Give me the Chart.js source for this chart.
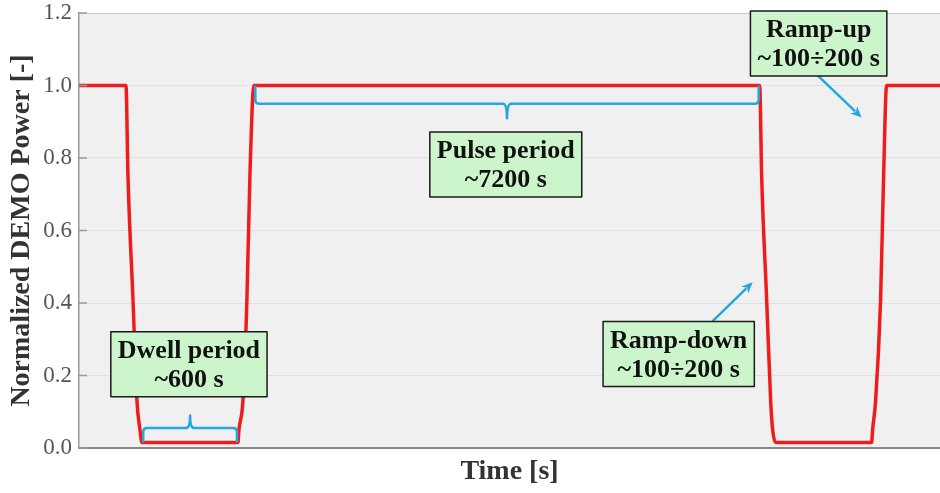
<!DOCTYPE html>
<html>
<head>
<meta charset="utf-8">
<script src="https://cdn.jsdelivr.net/npm/chart.js@4.4.0/dist/chart.umd.min.js"></script>
<style>
  html, body { margin: 0; padding: 0; background: #fff; }
  #wrap { width: 940px; height: 493px; position: relative; }
</style>
</head>
<body>
<div id="wrap"><canvas id="potencia"></canvas></div>
<script>
// Ciclo pulsado de DEMO: potencia normalizada frente al tiempo (s)
const tiempo = [0, 658, 686, 756, 812, 854, 882, 2226, 2240, 2296, 2352, 2394, 2450,
                9534, 9562, 9632, 9688, 9716, 9758, 11102, 11116, 11158, 11228, 11270, 11312, 12060];
const potencia = [1.0, 1.0, 0.75, 0.41, 0.13, 0.05, 0.015, 0.015, 0.05, 0.13, 0.41, 0.75, 1.0,
                  1.0, 0.75, 0.41, 0.13, 0.05, 0.015, 0.015, 0.05, 0.13, 0.41, 0.75, 1.0, 1.0];
const ticksY = [0, 0.2, 0.4, 0.6, 0.8, 1.0, 1.2];

// llaves: tramo [desde, hasta], nivel de apoyo, nivel de la llave y del pico
const llaves = [
  { desde: 2470, hasta: 9520, base: 1.0, nivel: 0.95, pico: 0.91 },
  { desde: 900, hasta: 2212, base: 0.015, nivel: 0.055, pico: 0.09 },
];
// rótulos (centro en coordenadas de datos)
const rotulos = [
  { texto: ["Dwell period", "~600 s"], x: 1540, y: 0.231 },
  { texto: ["Pulse period", "~7200 s"], x: 5978, y: 0.782 },
  { texto: ["Ramp-down", "~100÷200 s"], x: 8400, y: 0.259 },
  { texto: ["Ramp-up", "~100÷200 s"], x: 10360, y: 1.116 },
];
const flechas = [
  { de: [8876, 0.35], a: [9436, 0.457] },
  { de: [10346, 1.028], a: [10962, 0.912] },
];

const SERIF = "'Liberation Serif', 'Times New Roman', serif";
const CIAN = "#25a6df";

const anotaciones = {
  id: "anotaciones",
  beforeDraw(chart) {
    const { ctx, chartArea: a } = chart;
    ctx.save();
    ctx.fillStyle = "#f0f0f0";
    ctx.fillRect(a.left, a.top, a.right - a.left, a.bottom - a.top);
    ctx.restore();
  },
  afterDraw(chart) {
    const { ctx, chartArea: a } = chart;
    const sx = chart.scales.x, sy = chart.scales.y;
    const px = v => sx.getPixelForValue(v);
    const py = v => sy.getPixelForValue(v);
    ctx.save();

    // marcas cortas hacia dentro en el eje Y
    ctx.strokeStyle = "#999";
    ctx.lineWidth = 1.5;
    ticksY.forEach(t => {
      ctx.beginPath();
      ctx.moveTo(a.left, py(t));
      ctx.lineTo(a.left + 8, py(t));
      ctx.stroke();
    });

    // llaves
    ctx.strokeStyle = CIAN;
    ctx.lineWidth = 2.5;
    ctx.lineJoin = "round";
    llaves.forEach(l => {
      const x1 = px(l.desde), x2 = px(l.hasta), xm = (x1 + x2) / 2;
      const yb = py(l.base), yl = py(l.nivel), yp = py(l.pico);
      const r = 4, s = Math.sign(yb - yl);
      ctx.beginPath();
      ctx.moveTo(x1, yb);
      ctx.lineTo(x1, yl + s * r);
      ctx.quadraticCurveTo(x1, yl, x1 + r, yl);
      ctx.lineTo(xm - 4, yl);
      ctx.quadraticCurveTo(xm, yl, xm, yp);
      ctx.quadraticCurveTo(xm, yl, xm + 4, yl);
      ctx.lineTo(x2 - r, yl);
      ctx.quadraticCurveTo(x2, yl, x2, yl + s * r);
      ctx.lineTo(x2, yb);
      ctx.stroke();
    });

    // flechas
    flechas.forEach(f => {
      const x0 = px(f.de[0]), y0 = py(f.de[1]);
      const x1 = px(f.a[0]), y1 = py(f.a[1]);
      const ang = Math.atan2(y1 - y0, x1 - x0);
      const L = 11, W = 5;
      ctx.beginPath();
      ctx.moveTo(x0, y0);
      ctx.lineTo(x1 - Math.cos(ang) * L * 0.8, y1 - Math.sin(ang) * L * 0.8);
      ctx.stroke();
      ctx.fillStyle = CIAN;
      ctx.beginPath();
      ctx.moveTo(x1, y1);
      ctx.lineTo(x1 - Math.cos(ang) * L - Math.sin(ang) * W, y1 - Math.sin(ang) * L + Math.cos(ang) * W);
      ctx.lineTo(x1 - Math.cos(ang) * L * 0.7, y1 - Math.sin(ang) * L * 0.7);
      ctx.lineTo(x1 - Math.cos(ang) * L + Math.sin(ang) * W, y1 - Math.sin(ang) * L - Math.cos(ang) * W);
      ctx.closePath();
      ctx.fill();
    });

    // cuadros de texto
    ctx.font = "bold 26px " + SERIF;
    ctx.textAlign = "center";
    ctx.textBaseline = "middle";
    rotulos.forEach(r => {
      const cx = px(r.x), cy = py(r.y);
      const w = Math.max(...r.texto.map(t => ctx.measureText(t).width)) + 14;
      const h = 65;
      ctx.fillStyle = "#ccf5cc";
      ctx.fillRect(cx - w / 2, cy - h / 2, w, h);
      ctx.strokeStyle = "#1a1a1a";
      ctx.lineWidth = 1.5;
      ctx.strokeRect(cx - w / 2, cy - h / 2, w, h);
      ctx.fillStyle = "#111";
      ctx.fillText(r.texto[0], cx, cy - 13);
      ctx.fillText(r.texto[1], cx, cy + 16);
    });
    ctx.restore();
  },
};

new Chart(document.getElementById("potencia"), {
  type: "line",
  data: {
    datasets: [{
      data: tiempo.map((t, i) => ({ x: t, y: potencia[i] })),
      borderColor: "#ee1c1c",
      borderWidth: 3.5,
      pointRadius: 0,
      cubicInterpolationMode: "monotone",
      fill: false,
    }],
  },
  options: {
    responsive: true,
    maintainAspectRatio: false,
    animation: false,
    layout: { padding: { top: 13, right: 0, left: 0, bottom: 0 } },
    plugins: { legend: { display: false }, tooltip: { enabled: false } },
    scales: {
      x: {
        type: "linear",
        min: 0,
        max: 12060,
        grid: { display: false },
        border: { color: "#888", width: 2 },
        ticks: { display: false },
        title: {
          display: true,
          text: "Time [s]",
          font: { family: SERIF, size: 28, weight: "bold" },
          color: "#333",
          padding: { bottom: 4 },
        },
        afterFit: s => { s.height = 45; },
      },
      y: {
        min: 0,
        max: 1.2,
        afterBuildTicks: s => { s.ticks = ticksY.map(v => ({ value: v })); },
        grid: {
          drawTicks: false,
          color: c => (c.tick && c.tick.value === 1.2 ? "#c8c8c8" : "#e0e0e0"),
          lineWidth: 1,
        },
        border: { color: "#999", width: 1.5 },
        ticks: {
          padding: 7,
          color: "#555",
          font: { family: SERIF, size: 23 },
          callback: v => v.toFixed(1),
        },
        title: {
          display: true,
          text: "Normalized DEMO Power [-]",
          font: { family: SERIF, size: 28, weight: "bold" },
          color: "#333",
          padding: { top: 5 },
        },
        afterFit: s => { s.width = 79; s.paddingTop = 0; },
      },
    },
  },
  plugins: [anotaciones],
});
</script>
</body>
</html>
